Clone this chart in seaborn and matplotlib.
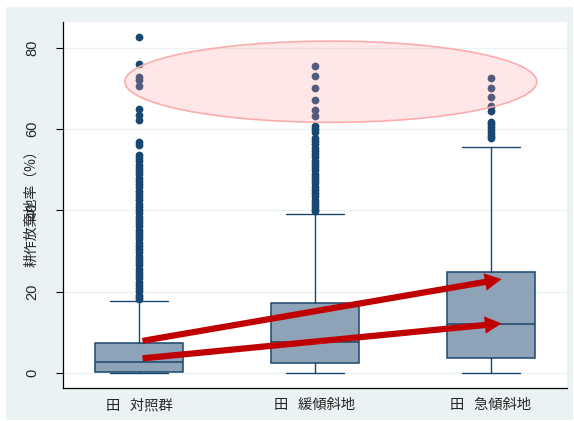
import matplotlib
matplotlib.use("Agg")
import matplotlib.pyplot as plt
import seaborn as sns
import pandas as pd
from matplotlib.patches import Ellipse, Rectangle, FancyArrowPatch

# ---- data -------------------------------------------------------------
CATEGORIES = ["田   対照群", "田   緩傾斜地", "田   急傾斜地"]
WHISKER_LOW = [0.0, 0.0, 0.0]
Q1 = [0.3, 2.4, 3.6]
MEDIAN = [2.6, 7.7, 12.1]
Q3 = [7.3, 17.3, 24.9]
WHISKER_HIGH = [17.8, 39.1, 55.6]

OUTLIERS_CONTROL = [82.8, 76.1, 72.8, 72.1, 70.6, 64.9, 63.5, 62.3, 56.9, 56.1,
                    53.7, 52.9, 52.1, 51.3, 50.5, 49.7, 48.9, 48.1, 47.3, 46.5,
                    45.7, 44.9, 44.1, 43.3, 42.5, 41.7, 40.9, 40.1, 39.3, 38.5,
                    37.7, 36.9, 36.1, 35.3, 34.5, 33.7, 32.9, 32.1, 31.3, 30.5,
                    29.7, 28.9, 28.1, 27.3, 26.5, 25.7, 24.9, 24.1, 23.3, 22.5,
                    21.7, 20.9, 20.1, 19.3, 18.6, 18.1]
OUTLIERS_GENTLE = [75.6, 73.2, 70.2, 67.2, 64.7, 63.3, 60.8, 60.1, 59.4, 57.9,
                   57.1, 56.3, 55.5, 54.7, 53.9, 53.1, 52.3, 51.5, 50.7, 49.9,
                   49.1, 48.3, 47.5, 46.7, 45.9, 45.1, 44.3, 43.5, 42.7, 41.9,
                   41.1, 40.4, 39.9]
OUTLIERS_STEEP = [72.7, 70.2, 67.9, 65.6, 64.6, 61.9, 61.2, 60.5, 59.8, 59.1,
                  58.4, 57.8]

Y_TICKS = [0, 20, 40, 60, 80]
Y_LABEL = "耕作放棄地率（%）"

# ---- style ------------------------------------------------------------
sns.set_theme(style="white")
plt.rcParams["font.family"] = ["Liberation Sans", "Noto Sans CJK JP"]
CJK = ["Noto Sans CJK JP", "DejaVu Sans"]

NAVY = "#1A476F"
BOX_FILL = "#8EA3B7"
PANEL = "#EAF2F3"
ARROW_RED = "#C00000"

W, H = 574, 421
fig = plt.figure(figsize=(W / 100, H / 100), dpi=100, facecolor="white")
fig.patches.append(Rectangle((6 / W, 1 / H), (573 - 6) / W, (420 - 7) / H,
                             transform=fig.transFigure, facecolor=PANEL,
                             edgecolor="none", zorder=-10))
ax = fig.add_axes([63 / W, 33 / H, 504 / W, 366 / H])
ax.set_zorder(1)
ax.set_facecolor("white")

# boxes
stats = [dict(whislo=lo, q1=a, med=m, q3=b, whishi=hi, fliers=[], label=c)
         for lo, a, m, b, hi, c in zip(WHISKER_LOW, Q1, MEDIAN, Q3,
                                       WHISKER_HIGH, CATEGORIES)]
ax.bxp(stats, positions=[0, 1, 2], widths=0.5, capwidths=0.33,
       patch_artist=True, showfliers=False,
       boxprops=dict(facecolor=BOX_FILL, edgecolor=NAVY, linewidth=1.1),
       medianprops=dict(color=NAVY, linewidth=1.1),
       whiskerprops=dict(color=NAVY, linewidth=1.0),
       capprops=dict(color=NAVY, linewidth=1.0), zorder=2)

# outside values
outliers = pd.DataFrame({
    "group": [CATEGORIES[0]] * len(OUTLIERS_CONTROL)
             + [CATEGORIES[1]] * len(OUTLIERS_GENTLE)
             + [CATEGORIES[2]] * len(OUTLIERS_STEEP),
    "value": OUTLIERS_CONTROL + OUTLIERS_GENTLE + OUTLIERS_STEEP,
})
sns.stripplot(data=outliers, x="group", y="value", order=CATEGORIES,
              jitter=False, color=NAVY, size=5.6, linewidth=0, ax=ax, zorder=3)

# highlight ellipse
ax.add_patch(Ellipse((1.09, 71.7), 2.34, 20.0,
                     facecolor=(1.0, 0.63, 0.63, 0.25),
                     edgecolor=(0.98, 0.68, 0.68), linewidth=1.2, zorder=4))

# trend arrows
for start, end in [((0.02, 7.9), (2.06, 23.1)), ((0.02, 3.6), (2.06, 12.2))]:
    ax.add_patch(FancyArrowPatch(
        start, end,
        arrowstyle="simple,head_length=1.2,head_width=1.25,tail_width=0.45",
        mutation_scale=10, color=ARROW_RED, linewidth=0,
        shrinkA=0, shrinkB=0, zorder=5))

# axes
ax.set_xlim(-0.432, 2.432)
ax.set_ylim(-3.7, 86.4)
ax.set_yticks(Y_TICKS)
ax.set_xticks([0, 1, 2])
ax.set_xticklabels(CATEGORIES, fontfamily=CJK, fontsize=10.3)
ax.set_xlabel("")
ax.set_ylabel("")
ax.yaxis.grid(True, color=PANEL, linewidth=0.9)
ax.xaxis.grid(False)
ax.set_axisbelow(True)
for side in ("top", "right"):
    ax.spines[side].set_visible(False)
for side in ("left", "bottom"):
    ax.spines[side].set_color("black")
    ax.spines[side].set_linewidth(0.9)
ax.tick_params(axis="y", left=True, length=5, width=0.8, color="black",
               pad=12, labelsize=10.5, direction="out")
ax.tick_params(axis="x", bottom=False, length=0, pad=7.5)
for lab in ax.get_yticklabels():
    lab.set_rotation(90)
    lab.set_va("center")
    lab.set_ha("right")

fig.text(31 / W, 1 - 205 / H, Y_LABEL, rotation=90, ha="center", va="center",
         fontfamily=CJK, fontsize=10)

fig.savefig("out.png", dpi=100, facecolor="white")
